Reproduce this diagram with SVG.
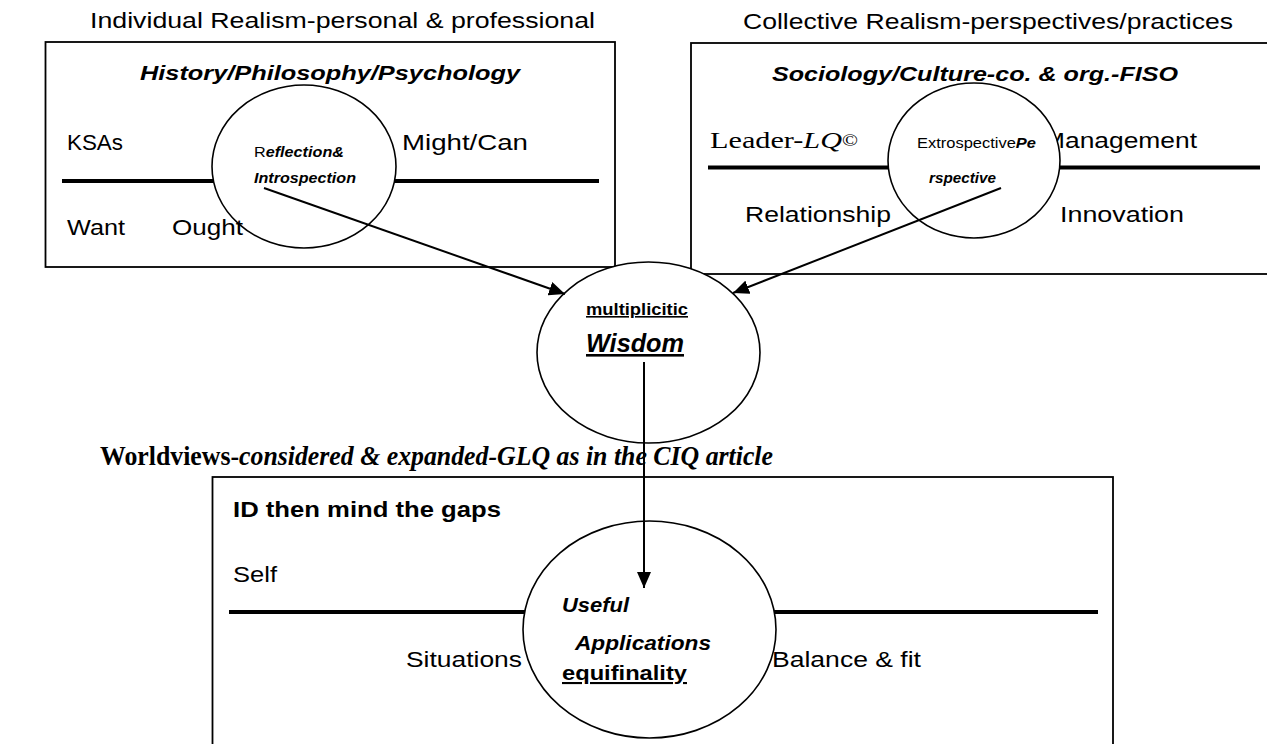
<svg xmlns="http://www.w3.org/2000/svg" width="1267" height="744" viewBox="0 0 1267 744">
<style>
.box{fill:none;stroke:#000;stroke-width:1.8}
.bar{stroke:#000;stroke-width:4}
.ell{fill:#fff;stroke:#000;stroke-width:1.6}
.s{font-family:"Liberation Sans",Arial,sans-serif;fill:#000}
.m{font-size:22px}
.sm{font-size:14px}
.bi{font-family:"Liberation Sans",Arial,sans-serif;font-weight:bold;font-style:italic;fill:#000}
.b{font-family:"Liberation Sans",Arial,sans-serif;font-weight:bold;fill:#000}
.serif{font-family:"Liberation Serif","Times New Roman",serif;fill:#000}
.con{stroke:#000;stroke-width:2;fill:none}
</style>
<defs>
<marker id="ah" markerUnits="userSpaceOnUse" markerWidth="18" markerHeight="14" refX="16" refY="7" orient="auto">
<path d="M0,0 L16,7 L0,14 Z" fill="#000"/>
</marker>
</defs>

<text class="s m" x="90" y="28" textLength="505" lengthAdjust="spacingAndGlyphs">Individual Realism-personal &amp; professional</text>
<text class="s m" x="743" y="29" textLength="490" lengthAdjust="spacingAndGlyphs">Collective Realism-perspectives/practices</text>

<g id="box-individual">
<rect class="box" x="45.5" y="42" width="569.5" height="225"/>
<text class="bi" x="140" y="80" font-size="20" textLength="380" lengthAdjust="spacingAndGlyphs">History/Philosophy/Psychology</text>
<line class="bar" x1="62" y1="181" x2="599" y2="181"/>
<text class="s m" x="67" y="150" textLength="56" lengthAdjust="spacingAndGlyphs">KSAs</text>
<text class="s m" x="402" y="150" textLength="126" lengthAdjust="spacingAndGlyphs">Might/Can</text>
<text class="s m" x="67" y="235" textLength="58" lengthAdjust="spacingAndGlyphs">Want</text>
<ellipse class="ell" cx="304" cy="166.5" rx="92" ry="81.5"/>
<text class="s m" x="172" y="235" textLength="71" lengthAdjust="spacingAndGlyphs">Ought</text>
</g>

<g id="node-reflection">
<text class="s sm" x="254" y="157" textLength="90" lengthAdjust="spacingAndGlyphs">R<tspan class="bi sm">eflection&amp;</tspan></text>
<text class="bi sm" x="254" y="183" textLength="102" lengthAdjust="spacingAndGlyphs">Introspection</text>
</g>

<g id="box-collective">
<rect class="box" x="691" y="43" width="600" height="231"/>
<text class="bi" x="772" y="81" font-size="20" textLength="406" lengthAdjust="spacingAndGlyphs">Sociology/Culture-co. &amp; org.-FISO</text>
<line class="bar" x1="708" y1="167.5" x2="1260" y2="167.5"/>
<text class="serif" x="710" y="148" font-size="23" textLength="148" lengthAdjust="spacingAndGlyphs">Leader-<tspan font-style="italic">LQ</tspan><tspan font-size="16" dy="-2">©</tspan></text>
<text class="s m" x="1043" y="148" textLength="154" lengthAdjust="spacingAndGlyphs">Management</text>
<text class="s m" x="745" y="222" textLength="146" lengthAdjust="spacingAndGlyphs">Relationship</text>
<text class="s m" x="1060" y="222" textLength="124" lengthAdjust="spacingAndGlyphs">Innovation</text>
</g>

<g id="node-extrospective">
<ellipse class="ell" cx="974" cy="160.5" rx="86" ry="77.5"/>
<text class="s sm" x="917" y="148" textLength="119" lengthAdjust="spacingAndGlyphs">Extrospective<tspan class="bi sm">Pe</tspan></text>
<text class="bi sm" x="929" y="183" textLength="67" lengthAdjust="spacingAndGlyphs">rspective</text>
</g>

<g id="node-wisdom">
<ellipse class="ell" cx="648.5" cy="352.5" rx="111.5" ry="90.5"/>
<text class="b" x="586" y="315" font-size="16" text-decoration="underline" textLength="102" lengthAdjust="spacingAndGlyphs">multiplicitic</text>
<text class="bi" x="586" y="352" font-size="26" text-decoration="underline" textLength="98" lengthAdjust="spacingAndGlyphs">Wisdom</text>
</g>

<text class="serif" x="100" y="465" font-size="28" font-weight="bold" textLength="673" lengthAdjust="spacingAndGlyphs">Worldviews-<tspan font-style="italic">considered &amp; expanded-GLQ as in the CIQ article</tspan></text>

<g id="box-gaps">
<rect class="box" x="212.5" y="477" width="900.5" height="300"/>
<text class="b" x="233" y="517" font-size="22" textLength="268" lengthAdjust="spacingAndGlyphs">ID then mind the gaps</text>
<text class="s m" x="233" y="582" textLength="44" lengthAdjust="spacingAndGlyphs">Self</text>
<line class="bar" x1="229" y1="612" x2="1098" y2="612"/>
<text class="s m" x="406" y="667" textLength="116" lengthAdjust="spacingAndGlyphs">Situations</text>
<text class="s m" x="772" y="667" textLength="149" lengthAdjust="spacingAndGlyphs">Balance &amp; fit</text>
</g>

<g id="node-applications">
<ellipse class="ell" cx="649.5" cy="629.5" rx="126.5" ry="108.5"/>
<text class="bi" x="562" y="612" font-size="21" textLength="67" lengthAdjust="spacingAndGlyphs">Useful</text>
<text class="bi" x="575" y="650" font-size="21" textLength="136" lengthAdjust="spacingAndGlyphs">Applications</text>
<text class="b" x="562" y="680" font-size="21" text-decoration="underline" textLength="125" lengthAdjust="spacingAndGlyphs">equifinality</text>
</g>

<g id="connectors">
<line class="con" x1="264" y1="188" x2="565" y2="294" marker-end="url(#ah)"/>
<line class="con" x1="1001" y1="188" x2="733" y2="293" marker-end="url(#ah)"/>
<line class="con" x1="644" y1="362" x2="644" y2="588" marker-end="url(#ah)"/>
</g>
</svg>
